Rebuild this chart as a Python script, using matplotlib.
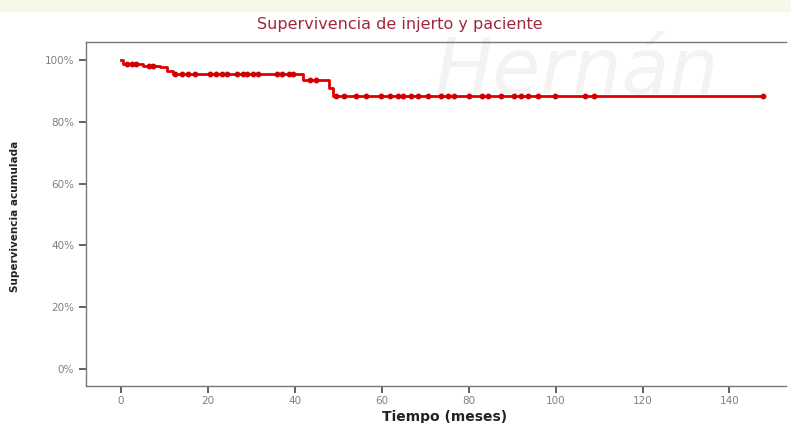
import matplotlib
matplotlib.use("Agg")
import matplotlib.pyplot as plt
from matplotlib.ticker import FuncFormatter

# Kaplan-Meier step curve (time in months, survival in %)
step_times = [0, 0.6, 5, 9, 10.6, 12, 42, 47.8, 48.7, 148]
step_surv = [100, 98.8, 98.2, 97.6, 96.4, 95.5, 93.5, 91.0, 88.3, 88.3]

# censored observations
censor_times = [1.5, 2.5, 3.5, 6.5, 7.5, 12.5, 14, 15.5, 17, 20.5, 22, 23.3, 24.5, 26.8, 28, 29,
                30.5, 31.6, 36, 37, 38.7, 39.7, 43.5, 45, 49.5, 51.3, 54, 56.3, 59.8, 62, 63.7,
                65, 66.7, 68.3, 70.7, 73.7, 75.3, 76.7, 80, 83, 84.5, 87.5, 90.5, 92, 93.7,
                96, 99.8, 106.7, 108.8, 147.6]

x_ticks = [0, 20, 40, 60, 80, 100, 120, 140]
y_ticks = [0, 20, 40, 60, 80, 100]

title = "Supervivencia de injerto y paciente"
xlabel = "Tiempo (meses)"
ylabel = "Supervivencia acumulada"

plt.rcParams['font.family'] = ['DejaVu Sans']

fig = plt.figure(figsize=(7.91, 4.23), dpi=100)
fig.patch.set_facecolor('white')
# light band at top of image
fig.patches.append(plt.Rectangle((0, 0.975), 1, 0.025, transform=fig.transFigure,
                                 color='#f8f8ea', zorder=0))
# faint watermark
fig.text(0.55, 0.83, "Hernán", fontsize=56, style='italic', color='#f3f3f3',
         ha='left', va='center', zorder=0)

ax = fig.add_axes([0.1087, 0.0875, 0.885, 0.813])
ax.set_zorder(2)
ax.set_facecolor('none')


def surv_at(t):
    s = step_surv[0]
    for tt, ss in zip(step_times, step_surv):
        if tt <= t:
            s = ss
    return s

ax.step(step_times, step_surv, where='post', color='#e00000', lw=2.0, zorder=3)
ax.plot(censor_times, [surv_at(t) for t in censor_times], 'o', color='#d00000',
        ms=3.2, zorder=4, mec='#d00000')

ax.set_xlim(-8, 153)
ax.set_ylim(-5.5, 105.8)
ax.set_xticks(x_ticks)
ax.set_yticks(y_ticks)
ax.yaxis.set_major_formatter(FuncFormatter(lambda v, p: f"{int(v)}%"))

for s in ['left', 'bottom', 'top']:
    ax.spines[s].set_color('#777777')
    ax.spines[s].set_linewidth(1.0)
ax.spines['right'].set_visible(False)
ax.tick_params(axis='both', colors='#555555', labelcolor='#808080', labelsize=7.5,
               length=5, width=1.3, direction='out')
ax.tick_params(axis='x', pad=2)

fig.text(400 / 791, 1 - 24 / 423, title, color='#a0283c', fontsize=11.5,
         ha='center', va='center')
fig.text(445 / 791, 1 - 417 / 423, xlabel, fontsize=10, fontweight='bold',
         color='#222222', ha='center', va='center')
fig.text(15 / 791, 1 - 216 / 423, ylabel, fontsize=7.5, fontweight='bold',
         color='#222222', ha='center', va='center', rotation=90)

fig.savefig("out.png", dpi=100, facecolor=fig.get_facecolor())
